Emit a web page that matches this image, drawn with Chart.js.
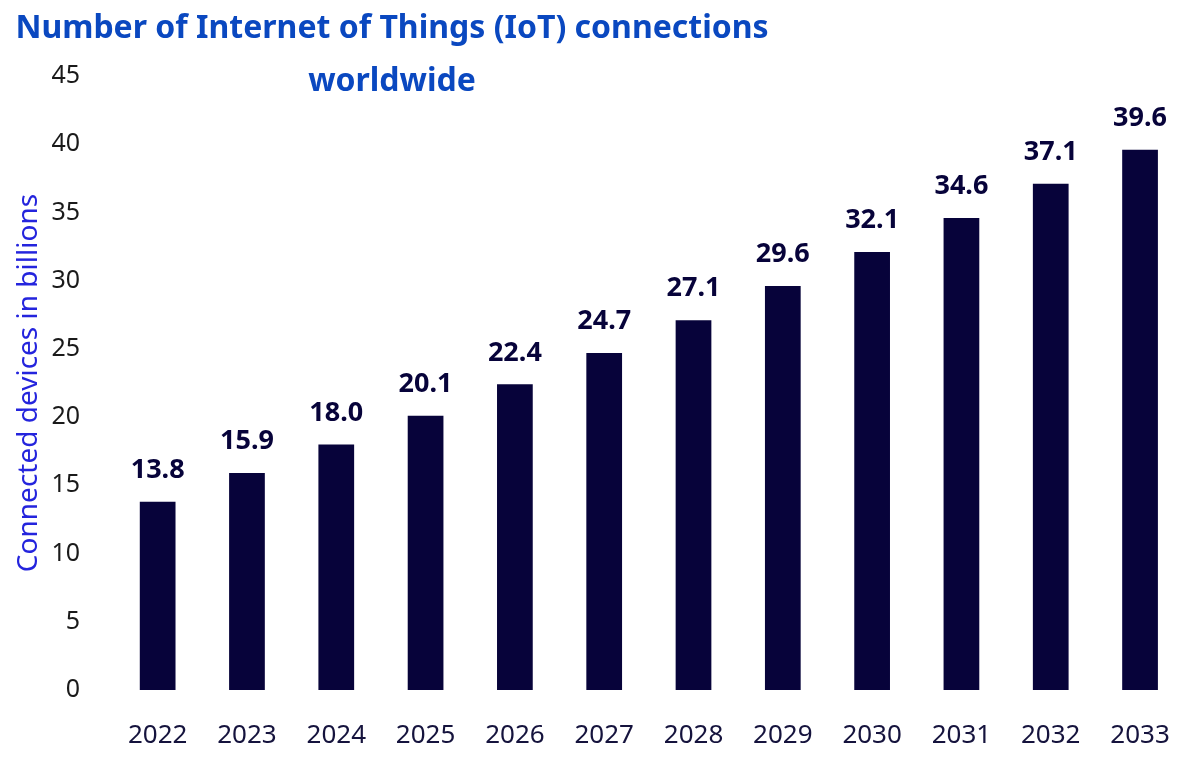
<!DOCTYPE html>
<html>
<head>
<meta charset="utf-8">
<script src="https://cdn.jsdelivr.net/npm/chart.js@4"></script>
<style>
  html, body { margin: 0; padding: 0; background: #fff; }
  #wrap { width: 1200px; height: 764px; }
</style>
</head>
<body>
<div id="wrap"><canvas id="myChart" width="1200" height="764"></canvas></div>
<script>
// data
var years = ['2022', '2023', '2024', '2025', '2026', '2027', '2028', '2029', '2030', '2031', '2032', '2033'];
var connections = [13.8, 15.9, 18.0, 20.1, 22.4, 24.7, 27.1, 29.6, 32.1, 34.6, 37.1, 39.6];
var titleLines = ['Number of Internet of Things (IoT) connections', 'worldwide'];
var yTitle = 'Connected devices in billions';

var FONT = "'Noto Sans', sans-serif";
var NAVY = '#07033a';

// value labels above each bar
var barLabels = {
	id: 'barLabels',
	afterDatasetsDraw: function(chart) {
		var ctx = chart.ctx;
		var meta = chart.getDatasetMeta(0);
		ctx.save();
		ctx.font = 'bold 27px ' + FONT;
		ctx.fillStyle = NAVY;
		ctx.textAlign = 'center';
		ctx.textBaseline = 'bottom';
		meta.data.forEach(function(bar, i) {
			ctx.fillText(connections[i].toFixed(1), bar.x, bar.y - 18);
		});
		ctx.restore();
	}
};

// title sits over the top of the plot, like the original
var topTitle = {
	id: 'topTitle',
	afterDraw: function(chart) {
		var ctx = chart.ctx;
		ctx.save();
		ctx.font = 'bold 32px ' + FONT;
		ctx.fillStyle = '#0a48c0';
		ctx.textAlign = 'center';
		ctx.textBaseline = 'middle';
		ctx.fillText(titleLines[0], 392, 29);
		ctx.fillText(titleLines[1], 392, 82);
		ctx.restore();
	}
};

var ctx = document.getElementById('myChart').getContext('2d');
var chart = new Chart(ctx, {
	type: 'bar',
	data: {
		labels: years,
		datasets: [{
			label: yTitle,
			data: connections,
			backgroundColor: NAVY,
			barPercentage: 0.8,
			categoryPercentage: 0.5
		}]
	},
	options: {
		responsive: false,
		animation: false,
		layout: { padding: { top: 76, right: 5, left: 12, bottom: 0 } },
		plugins: {
			legend: { display: false },
			tooltip: { enabled: false }
		},
		scales: {
			x: {
				grid: { display: false, drawTicks: false },
				border: { display: false },
				ticks: { color: '#15133d', font: { family: FONT, size: 26 }, padding: 30 },
				afterFit: function(s) { s.height = 74; }
			},
			y: {
				min: 0,
				max: 45,
				grid: { display: false, drawTicks: false },
				border: { display: false },
				ticks: { stepSize: 5, color: '#1a1a1a', font: { family: FONT, size: 25 }, padding: 33 },
				title: {
					display: true,
					text: yTitle,
					color: '#2424dd',
					font: { family: FONT, size: 28 },
					padding: 0
				},
				afterFit: function(s) { s.width = 101; }
			}
		}
	},
	plugins: [barLabels, topTitle]
});
</script>
</body>
</html>
